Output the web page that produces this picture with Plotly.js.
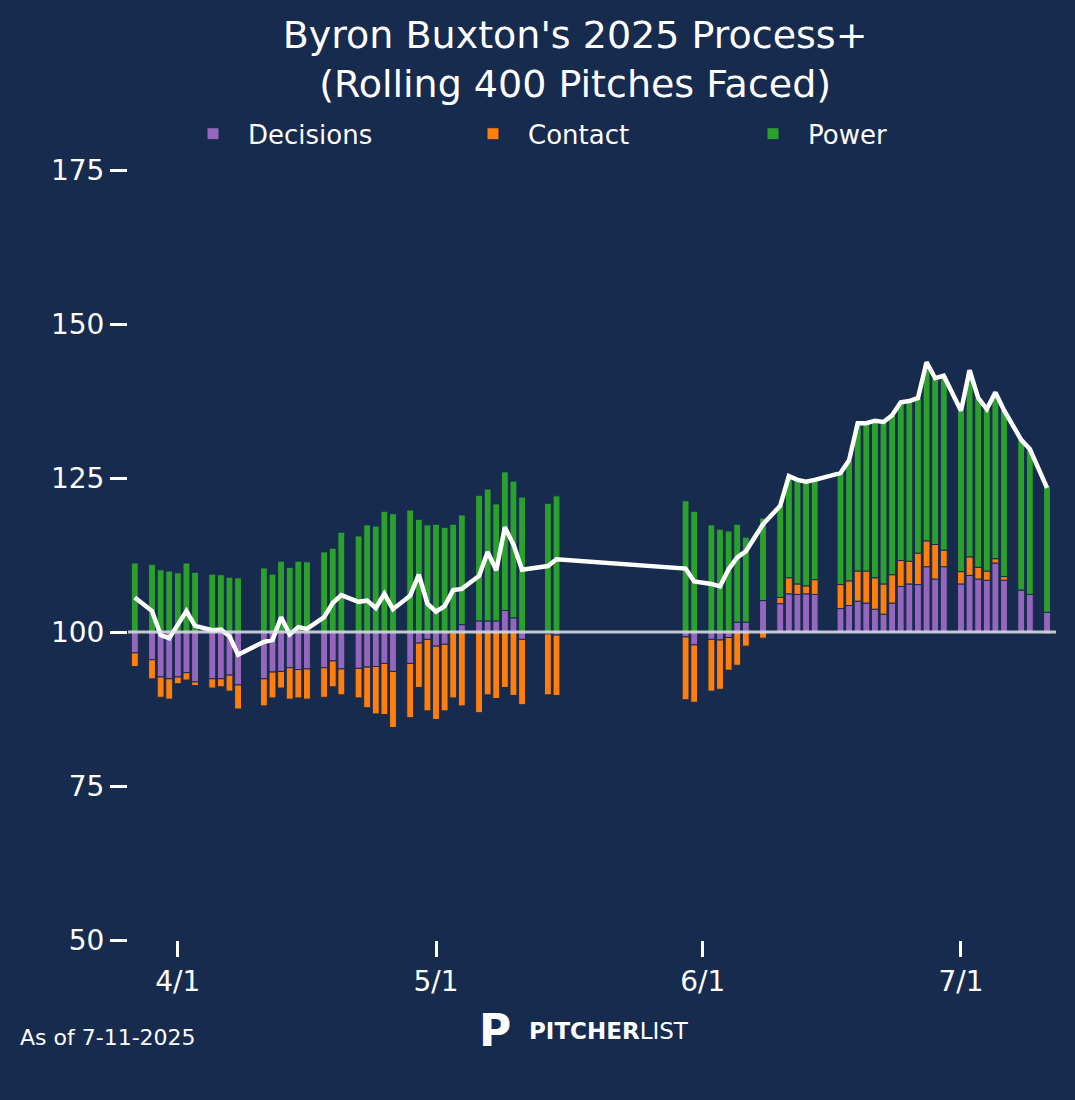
<!DOCTYPE html>
<html>
<head>
<meta charset="utf-8">
<script src="https://cdn.plot.ly/plotly-3.0.1.min.js"></script>
<style>body{margin:0;background:#172b4f}</style>
</head>
<body>
<div id="chart" style="width:1075px;height:1100px"></div>
<script>
const dates = ['2025-03-27','2025-03-29','2025-03-30','2025-03-31','2025-04-01','2025-04-02','2025-04-03',
  '2025-04-05','2025-04-06','2025-04-07','2025-04-08','2025-04-11','2025-04-12','2025-04-13','2025-04-14',
  '2025-04-15','2025-04-16','2025-04-18','2025-04-19','2025-04-20','2025-04-22','2025-04-23','2025-04-24',
  '2025-04-25','2025-04-26','2025-04-28','2025-04-29','2025-04-30','2025-05-01','2025-05-02','2025-05-03',
  '2025-05-04','2025-05-06','2025-05-07','2025-05-08','2025-05-09','2025-05-10','2025-05-11','2025-05-14',
  '2025-05-15','2025-05-30','2025-05-31','2025-06-02','2025-06-03','2025-06-04','2025-06-05','2025-06-06',
  '2025-06-08','2025-06-10','2025-06-11','2025-06-12','2025-06-13','2025-06-14','2025-06-17','2025-06-18',
  '2025-06-19','2025-06-20','2025-06-21','2025-06-22','2025-06-23','2025-06-24','2025-06-25','2025-06-26',
  '2025-06-27','2025-06-28','2025-06-29','2025-07-01','2025-07-02','2025-07-03','2025-07-04','2025-07-05',
  '2025-07-06','2025-07-08','2025-07-09','2025-07-11'];
const decisions = [-3.4,-4.5,-7.3,-7.6,-7.3,-6.6,-8.1,-7.6,-7.6,-7.0,-8.6,-7.6,-6.5,-6.4,-5.8,-6.1,-6.0,-5.8,-4.7,-6.0,
  -5.9,-5.7,-5.6,-5.1,-6.4,-5.1,-1.8,-1.2,-2.3,-2.0,-0.1,1.2,1.8,1.8,1.8,3.5,2.3,-1.2,-0.3,-0.5,
  -0.8,-2.1,-1.2,-1.3,-0.9,1.6,1.6,5.1,4.6,6.2,6.1,6.2,6.1,3.8,4.3,5.0,4.7,3.7,2.9,4.7,7.4,7.8,7.7,
  10.6,8.6,10.6,7.8,9.2,8.6,8.4,11.2,8.4,6.8,6.1,3.2];
const contact = [-2.2,-3.1,-3.3,-3.3,-1.1,-1.2,-0.6,-1.5,-1.3,-2.6,-3.9,-4.4,-4.2,-2.7,-5.1,-4.6,-4.9,-4.8,-4.2,-4.2,
  -4.8,-6.6,-7.7,-8.3,-9.1,-8.8,-7.2,-11.6,-11.9,-10.8,-10.6,-12.0,-13.1,-10.2,-10.8,-9.0,-10.3,-10.6,-9.9,-9.8,
  -10.2,-9.3,-8.4,-8.0,-5.3,-5.4,-2.3,-1.0,1.0,2.6,1.7,1.3,2.4,3.9,4.0,4.9,5.2,5.1,4.9,4.6,4.2,3.7,5.1,
  4.2,5.6,2.7,2.0,3.0,1.9,1.5,0.7,0.6,0,0,-0.3];
const power = [11.2,11.0,10.1,9.9,9.6,11.2,9.7,9.4,9.3,8.9,8.8,10.4,9.4,11.5,10.5,11.5,11.4,13.0,13.6,16.2,
  15.6,17.4,17.2,19.6,19.2,19.8,18.3,17.4,17.5,17.0,17.5,17.8,20.4,21.4,19.0,22.5,22.2,21.9,20.9,22.1,
  21.3,19.6,17.4,16.7,16.4,15.9,13.8,13.4,14.9,16.5,16.9,16.9,16.2,18.1,19.6,24.0,24.0,25.5,26.3,25.9,25.7,26.0,25.2,
  29.0,27.0,28.3,26.1,30.3,27.5,26.3,27.0,27.0,24.4,23.6,20.5];
const total = dates.map((_, i) => decisions[i] + contact[i] + power[i]);
const tickVals = [-50, -25, 0, 25, 50, 75];
const tickText = ['50', '75', '100', '125', '150', '175'];

const bg = '#172b4f';
const font = { family: 'DejaVu Sans', color: 'white' };
const barWidth = 0.8 * 86400000;

function bars(name, y, color) {
  return { x: dates, y: y, name: name, type: 'bar', width: barWidth,
    marker: { color: color, line: { color: bg, width: 1 } } };
}

const data = [
  bars('Decisions', decisions, '#9467bd'),
  bars('Contact', contact, '#ff7f0e'),
  bars('Power', power, '#2ca02c'),
  { x: dates, y: total, type: 'scatter', mode: 'lines', showlegend: false,
    line: { color: 'white', width: 4.5 } }
];

const layout = {
  width: 1075, height: 1100,
  paper_bgcolor: bg, plot_bgcolor: bg,
  font: Object.assign({ size: 26 }, font),
  barmode: 'relative',
  margin: { l: 128, r: 19, t: 170, b: 160, autoexpand: false },
  title: { text: "Byron Buxton's 2025 Process+<br>(Rolling 400 Pitches Faced)",
    font: Object.assign({ size: 38 }, font), x: 0.535, xref: 'container',
    y: 1 - 48 / 1100, yref: 'container', yanchor: 'middle' },
  showlegend: true,
  legend: { orientation: 'h', x: 50 / 928, xref: 'paper', xanchor: 'left', y: 1.047, yanchor: 'middle',
    font: Object.assign({ size: 26 }, font), entrywidth: 205, entrywidthmode: 'pixels',
    itemwidth: 60, traceorder: 'normal', bgcolor: 'rgba(0,0,0,0)' },
  xaxis: {
    type: 'date', range: ['2025-03-26 05:00', '2025-07-12 01:00'],
    tickvals: ['2025-04-01', '2025-05-01', '2025-06-01', '2025-07-01'],
    ticktext: ['4/1', '5/1', '6/1', '7/1'],
    ticks: 'outside', ticklen: 16, tickwidth: 3, tickcolor: 'white',
    showgrid: false, zeroline: false, showline: false,
    tickfont: { size: 28, color: 'white' }
  },
  yaxis: {
    range: [-50, 75], tickvals: tickVals, ticktext: tickText,
    ticks: 'outside', ticklen: 17, tickwidth: 3, tickcolor: 'white',
    showgrid: false, zeroline: false, showline: false,
    tickfont: { size: 28, color: 'white' }
  },
  shapes: [{ type: 'line', xref: 'paper', x0: 0, x1: 1, yref: 'y', y0: 0, y1: 0,
    layer: 'above', line: { color: 'rgba(225,228,235,0.85)', width: 3 } }],
  annotations: [
    { text: 'As of 7-11-2025', xref: 'paper', yref: 'paper', x: -110 / 928, y: -97 / 770,
      xanchor: 'left', yanchor: 'middle', showarrow: false, font: Object.assign({ size: 22 }, font) },
    { text: '<b>P</b>', xref: 'paper', yref: 'paper', x: 367 / 928, y: -90 / 770,
      xanchor: 'center', yanchor: 'middle', showarrow: false, font: Object.assign({ size: 44 }, font) },
    { text: '<b>PITCHER</b>LIST', xref: 'paper', yref: 'paper', x: 399 / 928, y: -91 / 770,
      xanchor: 'left', yanchor: 'middle', showarrow: false, font: Object.assign({ size: 23 }, font) }
  ]
};

Plotly.newPlot('chart', data, layout, { displayModeBar: false });
</script>
</body>
</html>
